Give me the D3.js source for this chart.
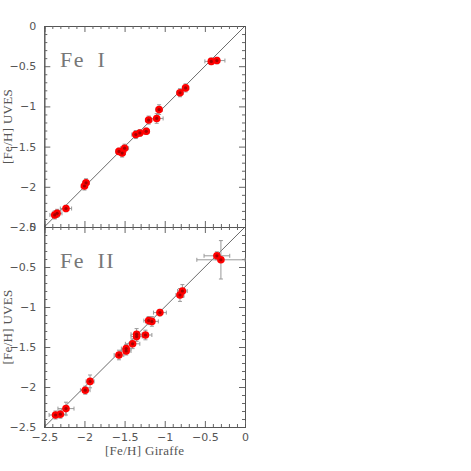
<!DOCTYPE html>
<html>
<head>
<meta charset="utf-8">
<script src="https://cdn.jsdelivr.net/npm/d3@7"></script>
<style>
  body { margin: 0; background: #fff; }
  .tick text { font-family: "DejaVu Sans", sans-serif; font-size: 11px; fill: #555; }
  .domain { stroke: #555; }
  .tick line { stroke: #666; }
  .label { font-family: "Liberation Serif", serif; font-size: 13px; fill: #555; letter-spacing: 0.3px; }
  .ion { font-family: "Liberation Serif", serif; font-size: 22px; fill: #777; letter-spacing: 1.5px; }
</style>
</head>
<body>
<svg width="471" height="471"></svg>
<script>
// Fe I panel
const fe1Gir  = [-2.37, -2.34, -2.23, -2.00, -1.98, -1.57, -1.53, -1.50, -1.36, -1.31, -1.23, -1.20, -1.10, -1.07, -0.81, -0.74, -0.42, -0.35]
const fe1Uves = [-2.35, -2.33, -2.27, -1.99, -1.95, -1.56, -1.58, -1.52, -1.35, -1.33, -1.31, -1.17, -1.15, -1.04, -0.83, -0.77, -0.44, -0.43]
const fe1ErrX = [0.06, 0.06, 0.07, 0.04, 0.04, 0.04, 0.04, 0.05, 0.05, 0.05, 0.04, 0.04, 0.08, 0.04, 0.04, 0.04, 0.08, 0.10]
const fe1ErrY = [0.05, 0.05, 0.04, 0.05, 0.05, 0.04, 0.05, 0.05, 0.05, 0.04, 0.04, 0.05, 0.06, 0.06, 0.05, 0.05, 0.04, 0.04]

// Fe II panel
const fe2Gir  = [-2.36, -2.30, -2.23, -1.99, -1.93, -1.57, -1.48, -1.48, -1.40, -1.35, -1.35, -1.24, -1.20, -1.16, -1.06, -0.81, -0.78, -0.35, -0.30]
const fe2Uves = [-2.35, -2.34, -2.27, -2.04, -1.93, -1.60, -1.55, -1.52, -1.46, -1.37, -1.34, -1.35, -1.17, -1.18, -1.07, -0.85, -0.80, -0.36, -0.41]
const fe2ErrX = [0.08, 0.07, 0.10, 0.06, 0.05, 0.06, 0.06, 0.06, 0.09, 0.07, 0.07, 0.08, 0.06, 0.08, 0.08, 0.05, 0.06, 0.16, 0.30]
const fe2ErrY = [0.05, 0.05, 0.08, 0.05, 0.08, 0.06, 0.05, 0.05, 0.06, 0.06, 0.07, 0.06, 0.05, 0.06, 0.04, 0.08, 0.08, 0.05, 0.24]

const majorTicks = [-2.5, -2, -1.5, -1, -0.5, 0]
const tickLabels = ['\u22122.5', '\u22122', '\u22121.5', '\u22121', '\u22120.5', '0']

const svg = d3.select('svg')
const left = 44.3, right = 245
const x = d3.scaleLinear().domain([-2.5, 0]).range([left, right])
const minorTicks = d3.range(-25, 1).map(d => d / 10).filter(d => Math.abs(d * 2 - Math.round(d * 2)) > 1e-6)

function panel(top, bottom, gir, uves, errX, errY, name, showX) {
    const y = d3.scaleLinear().domain([-2.5, 0]).range([bottom, top])
    const g = svg.append('g')
    const fmt = d => tickLabels[majorTicks.indexOf(d)]

    // major + minor ticks, all four sides, inward
    g.append('g').attr('transform', `translate(${left},0)`)
        .call(d3.axisLeft(y).tickValues(majorTicks).tickFormat(fmt).tickSize(-6).tickPadding(8))
    g.append('g').attr('transform', `translate(${left},0)`)
        .call(d3.axisLeft(y).tickValues(minorTicks).tickFormat('').tickSize(-3))
    g.append('g').attr('transform', `translate(${right},0)`)
        .call(d3.axisRight(y).tickValues(majorTicks).tickFormat('').tickSize(-6))
    g.append('g').attr('transform', `translate(${right},0)`)
        .call(d3.axisRight(y).tickValues(minorTicks).tickFormat('').tickSize(-3))
    g.append('g').attr('transform', `translate(0,${top})`)
        .call(d3.axisTop(x).tickValues(majorTicks).tickFormat('').tickSize(-6))
    g.append('g').attr('transform', `translate(0,${top})`)
        .call(d3.axisTop(x).tickValues(minorTicks).tickFormat('').tickSize(-3))
    g.append('g').attr('transform', `translate(0,${bottom})`)
        .call(d3.axisBottom(x).tickValues(majorTicks).tickFormat(showX ? fmt : '').tickSize(-6).tickPadding(6))
    g.append('g').attr('transform', `translate(0,${bottom})`)
        .call(d3.axisBottom(x).tickValues(minorTicks).tickFormat('').tickSize(-3))
    g.selectAll('.domain').attr('stroke', '#555')

    // one-to-one line
    g.append('line')
        .attr('x1', x(-2.5)).attr('y1', y(-2.5))
        .attr('x2', x(0)).attr('y2', y(0))
        .attr('stroke', '#444').attr('stroke-width', 0.8)

    const idx = d3.range(gir.length)
    const eb = g.append('g').attr('stroke', '#999').attr('stroke-width', 1)
    idx.forEach(i => {
        const cx = x(gir[i]), cy = y(uves[i])
        const x0 = x(gir[i] - errX[i]), x1 = x(gir[i] + errX[i])
        const y0 = y(uves[i] - errY[i]), y1 = y(uves[i] + errY[i])
        eb.append('line').attr('x1', x0).attr('x2', x1).attr('y1', cy).attr('y2', cy)
        eb.append('line').attr('x1', x0).attr('x2', x0).attr('y1', cy - 2).attr('y2', cy + 2)
        eb.append('line').attr('x1', x1).attr('x2', x1).attr('y1', cy - 2).attr('y2', cy + 2)
        eb.append('line').attr('x1', cx).attr('x2', cx).attr('y1', y0).attr('y2', y1)
        eb.append('line').attr('x1', cx - 2).attr('x2', cx + 2).attr('y1', y0).attr('y2', y0)
        eb.append('line').attr('x1', cx - 2).attr('x2', cx + 2).attr('y1', y1).attr('y2', y1)
    })

    g.selectAll('circle.pt')
        .data(idx)
        .enter()
        .append('circle')
        .attr('class', 'pt')
        .attr('cx', i => x(gir[i]))
        .attr('cy', i => y(uves[i]))
        .attr('r', 3.8)
        .attr('fill', '#ff0000')
    g.selectAll('circle.core')
        .data(idx)
        .enter()
        .append('circle')
        .attr('cx', i => x(gir[i]))
        .attr('cy', i => y(uves[i]))
        .attr('r', 1.6)
        .attr('fill', '#900000')
        .attr('opacity', 0.8)

    g.append('text')
        .attr('class', 'ion')
        .attr('x', 60)
        .attr('y', top + 41)
        .text(name.replace(' ', '\u2002'))

    svg.append('text')
        .attr('class', 'label')
        .attr('transform', `translate(12,${(top + bottom) / 2}) rotate(-90)`)
        .attr('text-anchor', 'middle')
        .text('[Fe/H] UVES')
}

panel(26, 227, fe1Gir, fe1Uves, fe1ErrX, fe1ErrY, 'Fe I', false)
panel(227, 427, fe2Gir, fe2Uves, fe2ErrX, fe2ErrY, 'Fe II', true)

svg.append('text')
    .attr('class', 'label')
    .attr('x', (left + right) / 2)
    .attr('y', 455)
    .attr('text-anchor', 'middle')
    .text('[Fe/H] Giraffe')
</script>
</body>
</html>
